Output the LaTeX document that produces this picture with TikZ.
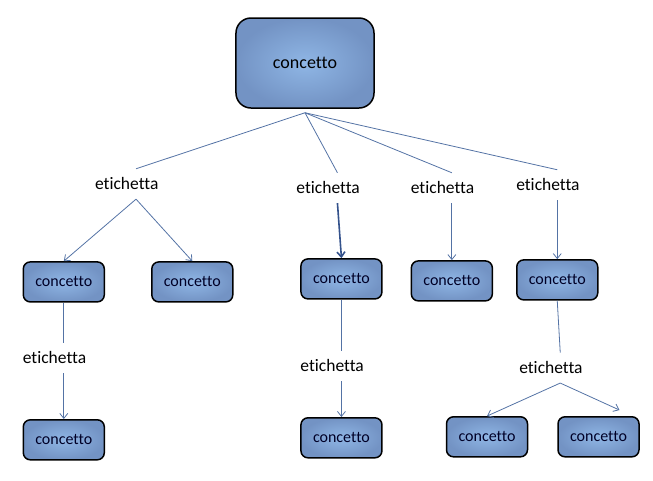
\documentclass[tikz,border=0pt]{standalone}
\usepackage{fontspec}
\setmainfont{Carlito}[Ligatures={NoCommon}]
\usepackage{tikz}
\usetikzlibrary{shapes,arrows.meta,positioning}
\definecolor{boxlight}{RGB}{143, 182, 229}
\definecolor{boxdark}{RGB}{115, 147, 196}
\definecolor{linkblue}{RGB}{84, 115, 165}
\definecolor{linkdark}{RGB}{52, 82, 140}
\tikzstyle{root} = [rectangle, rounded corners=15pt, draw=black, line width=1.5pt, inner color=boxlight, outer color=boxdark, text=black, font=\fontsize{18}{20}\selectfont, minimum width=138pt, minimum height=90pt]
\tikzstyle{concept} = [rectangle, rounded corners=7pt, draw=black, line width=1.5pt, inner color=boxlight, outer color=boxdark, text=black!85!blue, font=\fontsize{16}{18}\selectfont, minimum width=81pt, minimum height=40pt, inner sep=0pt]
\tikzstyle{tag} = [text width=82pt, align=left, inner xsep=0pt, inner ysep=9pt, text height=12pt, text depth=0pt, font=\fontsize{17.5}{20}\selectfont]
\tikzstyle{link} = [draw=linkblue, line width=0.8pt]
\tikzstyle{tedge} = [draw=linkblue, line width=0.8pt, -{Straight Barb[length=5pt,width=8pt]}]

\begin{document}
\begin{tikzpicture}
\useasboundingbox (-305pt,-417pt) rectangle (348pt,63pt);

% top concept =============================
\node[root] (top) {concetto};
\coordinate[below=4pt of top] (hub);

% first row of labels
\node[tag, below left=60pt and 58pt of top] (lab1) {etichetta};
\node[tag, right=119pt of lab1, yshift=-4pt] (lab2) {etichetta};
\node[tag, right=32pt of lab2] (lab3) {etichetta};
\node[tag, right=23pt of lab3, yshift=3pt] (lab4) {etichetta};

% first row of concepts
\node[concept, below left=62pt and 31pt of lab1.south] (c1) {concetto};
\node[concept, below right=62pt and 15pt of lab1.south] (c2) {concetto};
\node[concept, below=55pt of lab2, xshift=4pt] (c3) {concetto};
\node[concept, below=57pt of lab3] (c4) {concetto};
\node[concept, below=59pt of lab4] (c5) {concetto};

% second row of labels
\node[tag, below=40pt of c1] (lab5) {etichetta};
\node[tag, below=51pt of c3] (lab6) {etichetta};
\node[tag, below=52pt of c5, xshift=3pt] (lab7) {etichetta};

% second row of concepts
\node[concept, below=46pt of lab5] (c6) {concetto};
\node[concept, below=36pt of lab6] (c7) {concetto};
\node[concept, below left=33pt and 32pt of lab7.south] (c8) {concetto};
\node[concept, right=29pt of c8] (c9) {concetto};

%edges
\path[link] (hub) -- (lab1.north);
\path[link] (hub) -- (lab2.north);
\path[link] (hub) -- (lab3.north);
\path[link] (hub) -- (lab4.north);

\path[tedge] (lab1.south) -- (c1.north);
\path[tedge] (lab1.south) -- (c2.north);
\path[tedge, draw=linkdark, line width=1.6pt] (lab2.south) -- (c3.north);
\path[tedge] (lab3.south) -- (c4.north);
\path[tedge] (lab4.south) -- (c5.north);

\path[link] (c1.south) -- (lab5.north);
\path[link] (c3.south) -- (lab6.north);
\path[link] (c5.south) -- (lab7.north);

\path[tedge] (lab5.south) -- (c6.north);
\path[tedge] (lab6.south) -- (c7.north);
\path[tedge] (lab7.south) -- (c8.north);
\path[tedge] (lab7.south) -- ([xshift=21pt,yshift=6pt]c9.north);

\end{tikzpicture}
\end{document}
